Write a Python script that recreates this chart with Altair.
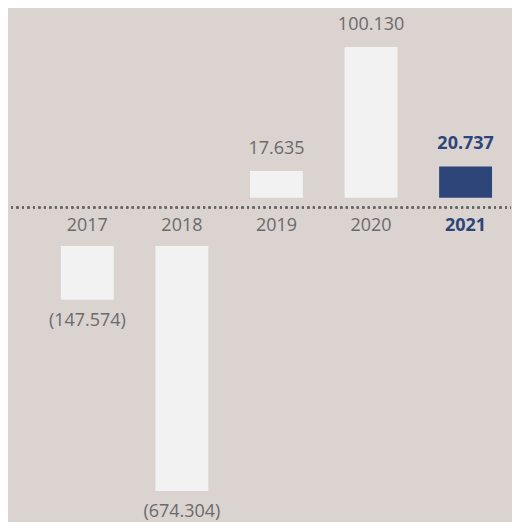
import altair as alt
import pandas as pd

years = ["2017", "2018", "2019", "2020", "2021"]
values = [-147574, -674304, 17635, 100130, 20737]
highlight_year = "2021"

def fmt(v):
    s = f"{abs(v):,}".replace(",", ".")
    return f"({s})" if v < 0 else s

labels = [fmt(v) for v in values]
df = pd.DataFrame({"year": years, "value": values, "label": labels})
df["hl"] = df["year"] == highlight_year

BG = "#dad3d0"
BAR = "#f2f2f2"
NAVY = "#2d4579"
GREY = "#6b6b6b"
FONT = "Open Sans"

W = 504
xscale = alt.Scale(domain=years, paddingInner=0.4406, paddingOuter=0.38, align=0.736)

color_cond = alt.condition("datum.hl", alt.value(NAVY), alt.value(BAR))

pos = alt.Chart(df).transform_filter("datum.value > 0")
top_bars = pos.mark_bar().encode(
    x=alt.X("year:N", scale=xscale, title=None,
            axis=alt.Axis(orient="bottom", domain=False, ticks=False, labelAngle=0,
                          labelPadding=28, labelBaseline="middle", labelFontSize=18,
                          labelFont=FONT,
                          labelColor=alt.expr(f"datum.value == '{highlight_year}' ? '{NAVY}' : '{GREY}'"),
                          labelFontWeight=alt.expr(f"datum.value == '{highlight_year}' ? 'bold' : 'normal'"))),
    y=alt.Y("value:Q", scale=alt.Scale(domain=[0, 125660], nice=False), axis=None),
    color=color_cond,
)
top_text = pos.transform_filter("!datum.hl").mark_text(
    dy=-22, fontSize=18, font=FONT, baseline="middle", color=GREY).encode(
    x=alt.X("year:N", scale=xscale), y=alt.Y("value:Q"), text="label:N")
top_text_hl = pos.transform_filter("datum.hl").mark_text(
    dy=-22, fontSize=18, font=FONT, baseline="middle", color=NAVY, fontWeight="bold").encode(
    x=alt.X("year:N", scale=xscale), y=alt.Y("value:Q"), text="label:N")
rule = alt.Chart(df).mark_rule(strokeDash=[2, 3.5], strokeWidth=2, color="#666666", yOffset=10).encode(
    y=alt.datum(0), x=alt.value(3), x2=alt.value(W)
)
top = alt.layer(top_bars, top_text, top_text_hl, rule).properties(width=W, height=189.5)

neg = alt.Chart(df).transform_filter("datum.value < 0")
bot_bars = neg.mark_bar().encode(
    x=alt.X("year:N", scale=xscale, axis=None),
    y=alt.Y("value:Q", scale=alt.Scale(domain=[-736080, 0], nice=False), axis=None),
    color=color_cond,
)
bot_text = neg.mark_text(dy=21, fontSize=18, font=FONT, baseline="middle", color=GREY).encode(
    x=alt.X("year:N", scale=xscale), y=alt.Y("value:Q"), text="label:N")
bottom = alt.layer(bot_bars, bot_text).properties(width=W, height=268)

chart = alt.vconcat(top, bottom, spacing=48, bounds="flush").properties(
    background=BG, padding={"left": 0, "top": 0, "right": 0, "bottom": 0}
).configure(font=FONT).configure_view(stroke=None)

chart.save("out.html", embed_options={"renderer": "svg", "actions": False})
